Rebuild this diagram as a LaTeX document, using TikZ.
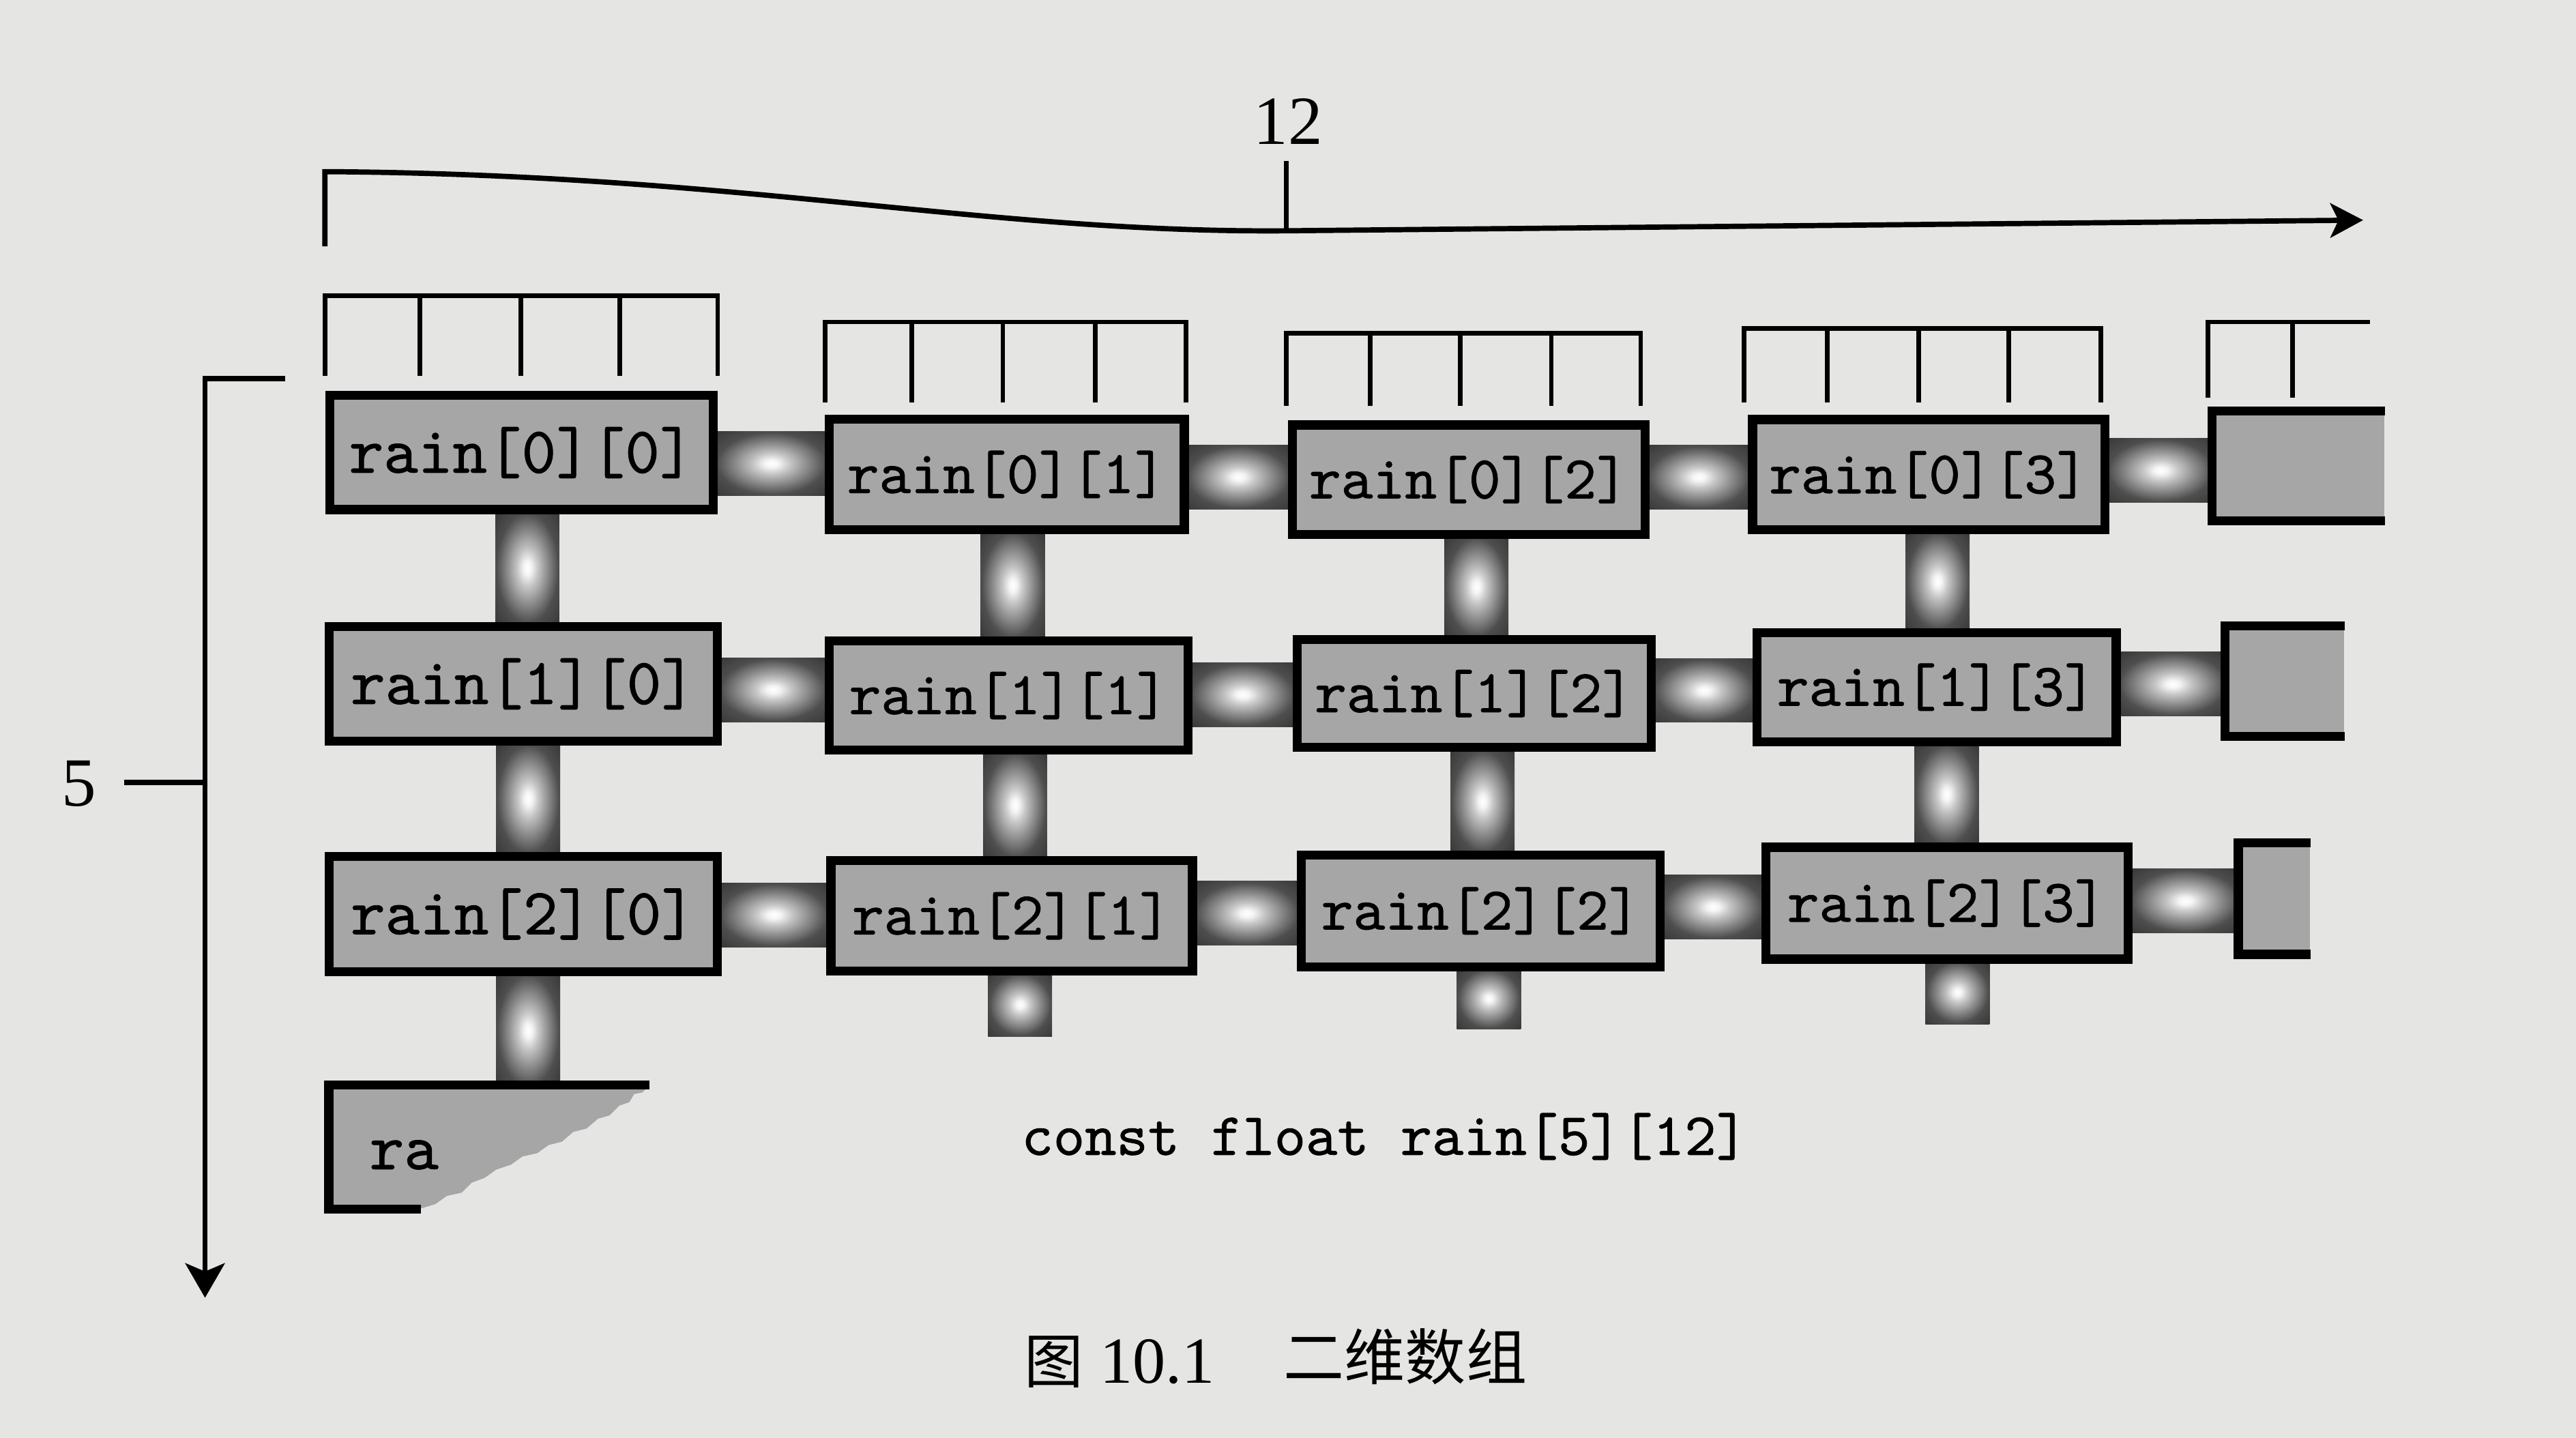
\documentclass[tikz,border=0pt]{standalone}
\usepackage{fontspec}
\setmainfont{Liberation Serif}
\newfontfamily\cjkfont{Noto Sans CJK SC}
\newfontfamily\cellmono{lmmono10-regular}[Extension=.otf, FakeBold=0.9]
\usetikzlibrary{arrows.meta,calc,backgrounds}
\definecolor{paper}{RGB}{229,229,227}
\definecolor{boxgray}{RGB}{166,166,166}
\definecolor{barcol}{RGB}{78,78,78}
\definecolor{baredge}{RGB}{58,58,58}
\pgfdeclareradialshading{glow}{\pgfpoint{0bp}{0bp}}{color(0bp)=(white); color(3bp)=(white!94!barcol); color(8bp)=(white!68!barcol); color(15bp)=(white!38!barcol); color(24bp)=(barcol); color(34bp)=(baredge); color(50bp)=(baredge)}
\tikzset{
  cellfont/.style={font=\cellmono\fontsize{20pt}{20pt}\selectfont},
  cell/.style={draw=black, line width=2.75pt, fill=boxgray, inner sep=0pt, cellfont, text=black},
  narrowcell/.style={cell, font=\cellmono\fontsize{18.5pt}{18.5pt}\selectfont},
  partcell/.style={fill=boxgray, inner sep=0pt},
  celledge/.style={draw=black, line width=2.75pt, line cap=butt},
  thinline/.style={draw=black, line width=1.4pt},
  axisline/.style={draw=black, line width=1.6pt, -{Stealth[length=10.5pt,width=12pt,inset=2.5pt]}},
  bar/.style={shading=glow},
  numlabel/.style={font=\fontsize{21pt}{21pt}\selectfont, inner sep=0pt},
}
\newcommand\hlink[2]{%
  \shade[bar] let \p1=(#1.east), \p2=(#2.west), \n1={(\y1+\y2)/2} in (\x1-1pt,\n1-9.75pt) rectangle (\x2+1pt,\n1+9.75pt);
}
\newcommand\vlink[2]{%
  \shade[bar] let \p1=(#1.south), \p2=(#2), \n1={(\x1+\x2)/2+1.5pt} in (\n1-9.75pt,\y1+1pt) rectangle (\n1+9.75pt,\y2-1pt);
}
\begin{document}
\begin{tikzpicture}[x=0.5pt,y=-0.5pt]
\useasboundingbox (0,0) rectangle (1568,875.3);

% cells
\node[cell, minimum width=116.75pt, minimum height=34.75pt] (r00) at (317.5,275.5) {rain[0][0]};
\node[narrowcell, minimum width=108.05pt, minimum height=33.5pt] (r01) at (612.8,288.8) {rain[0][1]};
\node[narrowcell, minimum width=107.25pt, minimum height=33.25pt] (r02) at (894,292) {rain[0][2]};
\node[narrowcell, minimum width=107.25pt, minimum height=33.6pt] (r03) at (1174,289) {rain[0][3]};
\node[cell, minimum width=118pt, minimum height=34.95pt] (r10) at (318.5,416.3) {rain[1][0]};
\node[narrowcell, minimum width=109.25pt, minimum height=33.15pt] (r11) at (614,423.4) {rain[1][1]};
\node[narrowcell, minimum width=107.85pt, minimum height=32.85pt] (r12) at (897.4,422.2) {rain[1][2]};
\node[narrowcell, minimum width=109.25pt, minimum height=33.15pt] (r13) at (1178.8,418.3) {rain[1][3]};
\node[cell, minimum width=118pt, minimum height=35.05pt] (r20) at (318.5,556.4) {rain[2][0]};
\node[narrowcell, minimum width=110.05pt, minimum height=33.75pt] (r21) at (615.8,557.5) {rain[2][1]};
\node[narrowcell, minimum width=109.25pt, minimum height=34pt] (r22) at (901.4,554.5) {rain[2][2]};
\node[narrowcell, minimum width=110.25pt, minimum height=34.05pt] (r23) at (1185,549.8) {rain[2][3]};

% partial cells on the right
\node[partcell, minimum width=52.4pt, minimum height=33pt] (r04) at (1399.1,283.75) {};
\draw[celledge] (r04.north east) -- (r04.north west) -- (r04.south west) -- (r04.south east);
\node[partcell, minimum width=36.1pt, minimum height=33.25pt] (r14) at (1390.9,414.6) {};
\draw[celledge] (r14.north east) -- (r14.north west) -- (r14.south west) -- (r14.south east);
\node[partcell, minimum width=21.6pt, minimum height=33.55pt] (r24) at (1384.4,547) {};
\draw[celledge] (r24.north east) -- (r24.north west) -- (r24.south west) -- (r24.south east);

% torn cell
\node[inner sep=0pt, minimum width=97.25pt, minimum height=37.25pt] (r30) at (297.75,698.25) {};
\fill[boxgray] (r30.north west) -- (r30.north east) -- (391,665) -- (386,666) -- (383,671) -- (377,673) -- (371,679) -- (364,681) -- (357,687) -- (349,689) -- (342,695) -- (334,697) -- (327,702) -- (318,704) -- (311,709) -- (302,712) -- (295,717) -- (287,720) -- (281,726) -- (272,728) -- (265,733) -- (256.6,735.5) -- (r30.south west) -- cycle;
\draw[celledge] (r30.north east) -- (r30.north west) -- (r30.south west) -- ($(r30.south west)+(56,0)$);
\node[cellfont, inner sep=0pt] (ratext) at (246,703) {ra};

% ends of the bars running out below
\coordinate (d1) at (620,629);
\coordinate (d2) at (905,624.5);
\coordinate (d3) at (1192,621.3);

\begin{pgfonlayer}{background}
  \fill[paper] (0,0) rectangle (1568,875.3);
  \hlink{r00}{r01}\hlink{r01}{r02}\hlink{r02}{r03}\hlink{r03}{r04}
  \hlink{r10}{r11}\hlink{r11}{r12}\hlink{r12}{r13}\hlink{r13}{r14}
  \hlink{r20}{r21}\hlink{r21}{r22}\hlink{r22}{r23}\hlink{r23}{r24}
  \vlink{r00}{r10.north}\vlink{r01}{r11.north}\vlink{r02}{r12.north}\vlink{r03}{r13.north}
  \vlink{r10}{r20.north}\vlink{r11}{r21.north}\vlink{r12}{r22.north}\vlink{r13}{r23.north}
  \vlink{r20}{r30.north -| r20.south}
  \vlink{r21}{d1}\vlink{r22}{d2}\vlink{r23}{d3}
\end{pgfonlayer}

% column brackets
\draw[thinline] (197.8,229) -- (197.8,180) -- (436.8,180) -- (436.8,229);
\foreach \x in {255.6,317,377.4} \draw[thinline] (\x,180) -- (\x,229);
\draw[thinline] (502.2,245) -- (502.2,196) -- (722,196) -- (722,245);
\foreach \x in {555,610.4,666.7} \draw[thinline] (\x,196) -- (\x,245);
\draw[thinline] (783,247) -- (783,203) -- (998.7,203) -- (998.7,247);
\foreach \x in {833.9,888.8,944.3} \draw[thinline] (\x,203) -- (\x,247);
\draw[thinline] (1061.5,245) -- (1061.5,200) -- (1278.7,200) -- (1278.7,245);
\foreach \x in {1112.3,1167.8,1222.7} \draw[thinline] (\x,200) -- (\x,245);
\draw[thinline] (1344,242) -- (1344,196) -- (1442.6,196);
\draw[thinline] (1395.5,196) -- (1395.5,242);

% top dimension: 12
\coordinate (topstart) at (197.8,150);
\coordinate (topcorner) at (197.8,104.5);
\coordinate (topmid) at (783,140.5);
\coordinate (topend) at (1438.4,134);
\coordinate (toptick) at (783,98);
\draw[axisline, -{Stealth[length=10pt,width=10.5pt,inset=2.5pt]}] (topstart) -- (topcorner) .. controls (450,106) and (600,142) .. (topmid) -- (topend);
\node[numlabel] (lab12) at (784,74) {12};
\draw[thinline, line width=1.6pt] (toptick) -- (topmid);

% left dimension: 5
\coordinate (lefttop) at (173.6,230.5);
\coordinate (leftcorner) at (124.8,230.5);
\coordinate (leftend) at (124.8,790);
\draw[axisline] (lefttop) -- (leftcorner) -- (leftend);
\node[numlabel] (lab5) at (48,477) {5};
\coordinate (fivetick) at (75.5,476.2);
\draw[thinline, line width=1.6pt] (fivetick) -- (fivetick -| leftcorner);

% declaration
\node[anchor=base west, inner sep=0pt, font=\cellmono\fontsize{18.3pt}{18.3pt}\selectfont] (decl) at (621.5,703) {const float rain[5][12]};

% caption
\node[font=\cjkfont\fontsize{18pt}{18pt}\selectfont, inner sep=0pt] (capfig) at (641.6,829) {图};
\node[font=\fontsize{20pt}{20pt}\selectfont, inner sep=0pt] (capnum) at (704.4,829) {10.1};
\node[font=\cjkfont\fontsize{18.5pt}{18.5pt}\selectfont, inner sep=0pt] (captext) at (855.4,826) {二维数组};
\end{tikzpicture}
\end{document}
